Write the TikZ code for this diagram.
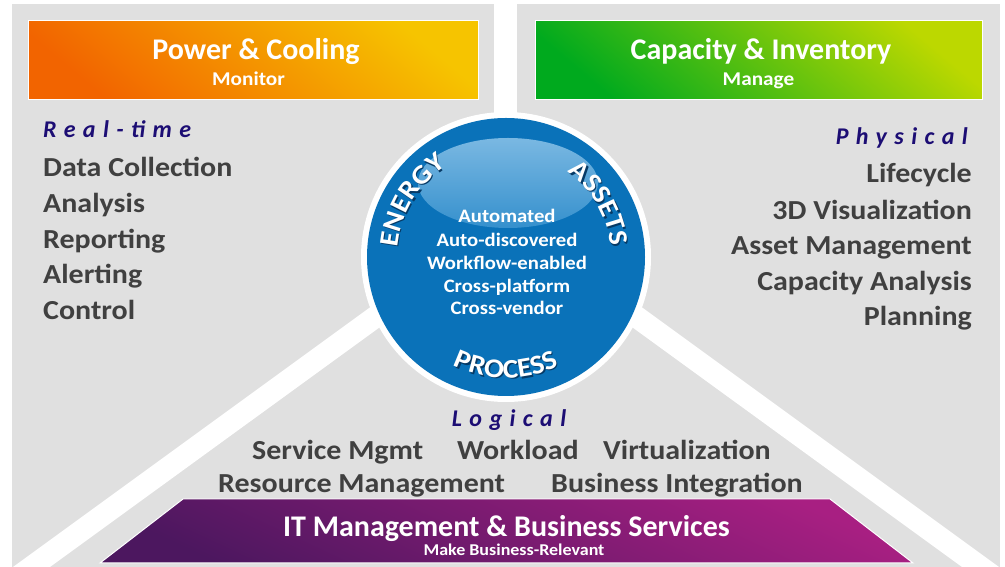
\documentclass[tikz,border=0pt]{standalone}
\usepackage{fontspec}
\setmainfont{Carlito}
\newfontfamily\spacedfont[LetterSpace=31]{Carlito}
\newfontfamily\widef[FakeStretch=1.09]{Carlito}
\usetikzlibrary{decorations.text}
\definecolor{panel}{HTML}{E0E0E0}
\definecolor{itemgrey}{HTML}{404040}
\definecolor{navy}{HTML}{1C0D74}
\definecolor{orangeT}{HTML}{F6C400}
\definecolor{orangeM}{HTML}{F47400}
\definecolor{orangeB}{HTML}{F26400}
\definecolor{greenT}{HTML}{BCD800}
\definecolor{greenM}{HTML}{1EB018}
\definecolor{greenB}{HTML}{00AA1E}
\definecolor{purpT}{HTML}{A81F82}
\definecolor{purpM}{HTML}{6E1A6C}
\definecolor{purpB}{HTML}{4C175F}
\definecolor{discblue}{HTML}{0A72B9}
\definecolor{hiT}{HTML}{7AB8E2}
\definecolor{hiB}{HTML}{3590CD}
\definecolor{shadowblue}{HTML}{063A66}
\newcommand{\fsz}[1]{\fontsize{#1}{#1}\selectfont}
\newcommand{\curvefont}{\widef\fsz{27}\bfseries}
\begin{document}
\begin{tikzpicture}[x=1pt,y=1pt,
  itemtext/.style={font=\widef\fsz{27.5}\bfseries, text=itemgrey, inner sep=0pt},
  headtext/.style={font=\spacedfont\fsz{24}\bfseries\itshape, text=navy, inner sep=0pt},
  disctext/.style={font=\widef\fsz{19}\bfseries, text=white, inner sep=0pt},
  titletext/.style={font=\fsz{30}\bfseries, text=white, inner sep=0pt},
  subtext/.style={font=\widef\fsz{19.5}\bfseries, text=white, inner sep=0pt},
  band/.style={fill=white, draw=none}]
\useasboundingbox (0,0) rectangle (1005,567);
% grey panels
\fill[panel] (12,0) rectangle (1000,563);
% top gap
\fill[white] (494,350) rectangle (517,563);
% diagonal bands
\fill[band] (13,0) -- (420,296) -- (420,269) -- (50,0) -- cycle;
\fill[band] (999,0) -- (592,296) -- (592,269) -- (962,0) -- cycle;
% header boxes
\shadedraw[draw=white, line width=1pt, top color=orangeT, middle color=orangeM, bottom color=orangeB, shading angle=-40]
  (28,467) rectangle (478,546);
\shadedraw[draw=white, line width=1pt, top color=greenT, middle color=greenM, bottom color=greenB, shading angle=-40]
  (535,467) rectangle (982,546);
\node[titletext, anchor=base] (pc) at (256,507) {Power \& Cooling};
\node[subtext, anchor=base] (pcs) at (248.5,481) {Monitor};
\node[titletext, anchor=base] (ci) at (761,507) {Capacity \& Inventory};
\node[subtext, anchor=base] (cis) at (758.5,481) {Manage};
% bottom trapezoid
\shadedraw[draw=white, line width=1pt, top color=purpT, middle color=purpM, bottom color=purpB, shading angle=-25]
  (100,4) -- (183,68) -- (830,68) -- (913,4) -- cycle;
\node[font=\fsz{30}\bfseries, text=white, inner sep=0pt, anchor=base] (itm) at (506.5,30) {IT Management \& Business Services};
\node[font=\widef\fsz{16.5}\bfseries, text=white, inner sep=0pt, anchor=base] (itms) at (514,11) {Make Business-Relevant};
% disc
\coordinate (c) at (506,310);
\fill[white] (c) circle[radius=145];
\fill[discblue] (c) circle[radius=139];
\begin{scope}
  \clip (c) circle[radius=139];
  \shade[top color=hiT, bottom color=hiB] (508,384) ellipse[x radius=90, y radius=45];
\end{scope}
\node[disctext, anchor=base] (d1) at (507,344) {Automated};
\node[disctext, anchor=base] (d2) at (507,320) {Auto-discovered};
\node[disctext, anchor=base] (d3) at (507,297) {Workflow-enabled};
\node[disctext, anchor=base] (d4) at (507,274) {Cross-platform};
\node[disctext, anchor=base] (d5) at (507,252) {Cross-vendor};
% curved labels with shadow
\foreach \dx/\dy/\col in {1.6/-1.6/shadowblue, 0/0/white}{
  \path[decorate, decoration={text along path, text={|\curvefont|ENERGY}, text align=center, text color=\col}]
    ([shift={(\dx,\dy)}]c) ++(182:109) arc[start angle=182, end angle=116, radius=109];
  \path[decorate, decoration={text along path, text={|\curvefont|ASSETS}, text align=center, text color=\col}]
    ([shift={(\dx,\dy)}]c) ++(63:105) arc[start angle=63, end angle=-3, radius=105];
  \path[decorate, decoration={text along path, text={|\curvefont|PROCESS}, text align=center, text color=\col}]
    ([shift={(\dx,\dy)}]c) ++(-124:121) arc[start angle=-124, end angle=-56, radius=121];
}
% left list
\node[headtext, anchor=base west] (rt) at (43,429) {Real-time};
\node[itemtext, anchor=base west] (l1) at (43,390) {Data Collection};
\node[itemtext, anchor=base west] (l2) at (43,354) {Analysis};
\node[itemtext, anchor=base west] (l3) at (43,318) {Reporting};
\node[itemtext, anchor=base west] (l4) at (43,283) {Alerting};
\node[itemtext, anchor=base west] (l5) at (43,247) {Control};
% right list
\node[headtext, anchor=base east] (ph) at (968,422) {Physical};
\node[itemtext, anchor=base east] (r1) at (972,384) {Lifecycle};
\node[itemtext, anchor=base east] (r2) at (972,347) {3D Visualization};
\node[itemtext, anchor=base east] (r3) at (972,312) {Asset Management};
\node[itemtext, anchor=base east] (r4) at (972,276) {Capacity Analysis};
\node[itemtext, anchor=base east] (r5) at (972,241) {Planning};
% bottom list
\node[headtext, anchor=base] (lg) at (509,140) {Logical};
\node[itemtext, anchor=base west] (b1) at (252,107) {Service Mgmt};
\node[itemtext, anchor=base west] (b2) at (457,107) {Workload};
\node[itemtext, anchor=base west] (b3) at (603,107) {Virtualization};
\node[itemtext, anchor=base west] (b4) at (218,74) {Resource Management};
\node[itemtext, anchor=base west] (b5) at (551,74) {Business Integration};
\end{tikzpicture}
\end{document}
